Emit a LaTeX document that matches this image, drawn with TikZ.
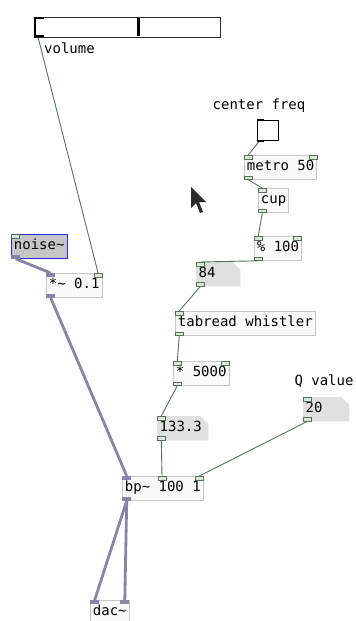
\documentclass[tikz,border=0pt]{standalone}
\usepackage{fontspec}
\setmonofont{DejaVu Sans Mono}
\usetikzlibrary{positioning, backgrounds}
\definecolor{PdBox}{HTML}{C4C8C4}
\definecolor{PdFill}{HTML}{F8F9F8}
\definecolor{PdAtom}{HTML}{E0E0E0}
\definecolor{PdCtl}{HTML}{56725A}
\definecolor{PdSig}{HTML}{8886A6}
\definecolor{PdPort}{HTML}{DCE4DC}
\definecolor{PdSel}{HTML}{C6C6C6}
\definecolor{PdBlue}{HTML}{2A2AE0}
\definecolor{PdDark}{HTML}{2A2A2A}
\newcommand{\pdfont}{\ttfamily\fontsize{14}{16}\selectfont}

\begin{document}
\begin{tikzpicture}[x=1pt, y=-1pt, every node/.style={font=\pdfont}]
  \tikzset{
    obj/.style={rectangle, draw=PdBox, fill=PdFill, anchor=north west, inner xsep=2.5pt, inner ysep=0pt, minimum height=24pt, text height=10pt, text depth=3pt, line width=0.8pt},
    atom/.style={rectangle, anchor=north west, inner xsep=2.5pt, inner ysep=0pt, minimum height=24pt, text height=10pt, text depth=3pt, text width=#1, align=left},
    port/.style={rectangle, draw=PdCtl, fill=PdPort, minimum width=8pt, minimum height=3.5pt, inner sep=0pt, line width=0.6pt},
    sigport/.style={rectangle, fill=PdSig, minimum width=9pt, minimum height=4pt, inner sep=0pt},
    ctl/.style={draw=PdCtl, line width=0.9pt},
    sig/.style={draw=PdSig, line width=2.8pt},
    label/.style={inner sep=0pt}
  }
  \useasboundingbox (0,0) rectangle (356,621);
  \clip (0,0) rectangle (356,621);

  % slider and bang
  \draw[PdDark, line width=1pt, fill=white] (34,17) rectangle (220,37);
  \draw[black, line width=3pt] (138,18) -- (138,36);
  \draw[black, line width=2pt] (44,18) -- (35,18) -- (35,36) -- (44,36);
  \coordinate (slider-out) at (38,37);
  \node[label, anchor=west] (vol) at (44,48) {volume};

  \node[label] (cf) at (259,106) {center freq};
  \node[rectangle, draw=black, line width=1.5pt, fill=white, minimum width=21pt, minimum height=20pt, anchor=north west] (bang) at (256.5,119.5) {};
  \draw[black, line width=2pt] (bang.north west) -- ++(7,0);
  \draw[black, line width=2pt] (bang.south west) -- ++(7,0);
  \coordinate (bang-out) at ([xshift=3pt]bang.south west);

  % objects
  \node[obj] (metro) at (244,155) {metro 50};
  \node[obj] (cup) at (258,188) {cup};
  \node[obj] (mod) at (254,236) {\% 100};
  \node[atom=39pt] (a84) at (196,262) {84};
  \node[obj] (tabread) at (175,311) {tabread whistler};
  \node[obj] (times) at (173,361) {* 5000};
  \node[atom=46pt] (a133) at (157,416) {133.3};
  \node[label] (qv) at (324,381) {Q value};
  \node[atom=41pt] (a20) at (303,397) {20};
  \node[obj, draw=PdBlue, fill=PdSel] (noise) at (11,234) {noise\textasciitilde};
  \node[obj] (mul) at (46,273) {*\textasciitilde{} 0.1};
  \node[obj] (bp) at (122,476) {bp\textasciitilde{} 100 1};
  \node[obj] (dac) at (90,600) {dac\textasciitilde};

  % ports
  \foreach \b in {metro, cup, mod, a84, tabread, times, a133, a20, noise}
    \node[port, anchor=north west] (\b-in) at (\b.north west) {};
  \foreach \b in {metro, mod, times, mul}
    \node[port, anchor=north east] (\b-in2) at (\b.north east) {};
  \foreach \b in {metro, cup, mod, a84, tabread, times, a133, a20}
    \node[port, anchor=south west] (\b-out) at (\b.south west) {};
  \node[port, anchor=north east] (bp-in3) at (bp.north east) {};
  \node[port, anchor=north] (bp-in2) at ([xshift=40pt]bp.north west) {};
  \node[sigport, anchor=north west] (mul-in) at (mul.north west) {};
  \node[sigport, anchor=north west] (bp-in) at (bp.north west) {};
  \node[sigport, anchor=north west] (dac-in) at (dac.north west) {};
  \node[sigport, anchor=north east] (dac-in2) at (dac.north east) {};
  \node[sigport, anchor=south west] (noise-out) at (noise.south west) {};
  \node[sigport, anchor=south west] (mul-out) at (mul.south west) {};
  \node[sigport, anchor=south west] (bp-out) at (bp.south west) {};

  % cursor
  \fill[PdDark] (191,187) -- (191,208) -- (196,203) -- (200,213) -- (203,212) -- (199,202) -- (206,202) -- cycle;

  \begin{scope}[on background layer]
    \foreach \a in {a84, a133, a20}
      \fill[PdAtom] (\a.north west) -- ([xshift=-8pt]\a.north east) -- ([yshift=-8pt]\a.north east) -- (\a.south east) -- (\a.south west) -- cycle;
    \draw[ctl] (slider-out) -- (mul-in2.north);
    \draw[ctl] (bang-out) -- (metro-in.north);
    \draw[ctl] (metro-out.south) -- (cup-in.north);
    \draw[ctl] (cup-out.south) -- (mod-in.north);
    \draw[ctl] (mod-out.south) -- (a84-in.north);
    \draw[ctl] (a84-out.south) -- (tabread-in.north);
    \draw[ctl] (tabread-out.south) -- (times-in.north);
    \draw[ctl] (times-out.south) -- (a133-in.north);
    \draw[ctl] (a133-out.south) -- (bp-in2.north);
    \draw[ctl] (a20-out.south) -- (bp-in3.north);
    \draw[sig] (noise-out.south) -- (mul-in.north);
    \draw[sig] (mul-out.south) -- (bp-in.north);
    \draw[sig] (bp-out.south) -- (dac-in.north);
    \draw[sig] (bp-out.south) -- (dac-in2.north);
  \end{scope}
\end{tikzpicture}
\end{document}
